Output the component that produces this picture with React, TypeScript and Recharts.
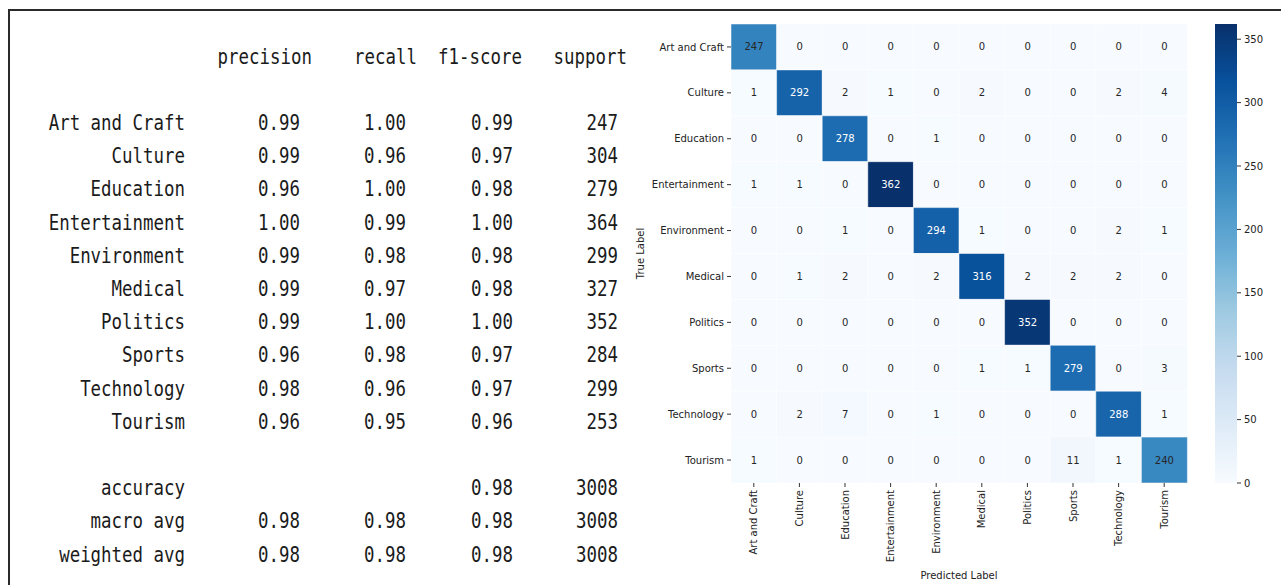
import { Bar, BarChart, Cell, LabelList, XAxis, YAxis } from "recharts";

// classification report
const classNames = [
  "Art and Craft",
  "Culture",
  "Education",
  "Entertainment",
  "Environment",
  "Medical",
  "Politics",
  "Sports",
  "Technology",
  "Tourism",
];
const precision = [0.99, 0.99, 0.96, 1.0, 0.99, 0.99, 0.99, 0.96, 0.98, 0.96];
const recall = [1.0, 0.96, 1.0, 0.99, 0.98, 0.97, 1.0, 0.98, 0.96, 0.95];
const f1Score = [0.99, 0.97, 0.98, 1.0, 0.98, 0.98, 1.0, 0.97, 0.97, 0.96];
const support = [247, 304, 279, 364, 299, 327, 352, 284, 299, 253];

const summaryNames = ["accuracy", "macro avg", "weighted avg"];
const summaryPrecision = [null, 0.98, 0.98];
const summaryRecall = [null, 0.98, 0.98];
const summaryF1 = [0.98, 0.98, 0.98];
const summarySupport = [3008, 3008, 3008];

const headers = ["precision", "recall", "f1-score", "support"];

// confusion matrix: rows = true label, columns = predicted label
const confusion = [
  [247, 0, 0, 0, 0, 0, 0, 0, 0, 0],
  [1, 292, 2, 1, 0, 2, 0, 0, 2, 4],
  [0, 0, 278, 0, 1, 0, 0, 0, 0, 0],
  [1, 1, 0, 362, 0, 0, 0, 0, 0, 0],
  [0, 0, 1, 0, 294, 1, 0, 0, 2, 1],
  [0, 1, 2, 0, 2, 316, 2, 2, 2, 0],
  [0, 0, 0, 0, 0, 0, 352, 0, 0, 0],
  [0, 0, 0, 0, 0, 1, 1, 279, 0, 3],
  [0, 2, 7, 0, 1, 0, 0, 0, 288, 1],
  [1, 0, 0, 0, 0, 0, 0, 11, 1, 240],
];

const colorbarTicks = [0, 50, 100, 150, 200, 250, 300, 350];

// matplotlib "Blues"
const BLUES = [
  "#f7fbff",
  "#deebf7",
  "#c6dbef",
  "#9ecae1",
  "#6baed6",
  "#4292c6",
  "#2171b5",
  "#08519c",
  "#08306b",
];

const vmax = Math.max(...confusion.flat());

function hexRgb(h: string) {
  return [1, 3, 5].map((i) => parseInt(h.slice(i, i + 2), 16));
}

function bluesRgb(v: number) {
  const t = Math.min(1, Math.max(0, v / vmax)) * (BLUES.length - 1);
  const i = Math.min(BLUES.length - 2, Math.floor(t));
  const f = t - i;
  const a = hexRgb(BLUES[i]);
  const b = hexRgb(BLUES[i + 1]);
  return a.map((x, k) => Math.round(x + (b[k] - x) * f));
}

const blues = (v: number) => `rgb(${bluesRgb(v).join(",")})`;

function isDark(v: number) {
  const [r, g, b] = bluesRgb(v).map((x) => x / 255);
  return 0.2126 * r + 0.7152 * g + 0.0722 * b < 0.408;
}

// one stacked column per predicted label, one unit slot per true label
const heatRows = classNames.map((pred, c) => {
  const row: Record<string, string | number> = { name: pred };
  confusion.forEach((r, i) => {
    row[`slot${i}`] = 1;
    row[`count${i}`] = r[c];
  });
  return row;
});

const colorbarData = [{ name: "scale", top: vmax }];

// ---- report text ----
// DejaVu Sans Mono at 21px is ~12.64px per char; squeeze to ~10.5px
const SQUEEZE = 0.83;
const nameEnd = 185;
const valueEnds = [300, 406, 513, 618];
const headerEnds = [312, 417, 522, 627];
const lineY = (k: number) => 130 + 33.2 * k;

function Mono({ x, y, s }: { x: number; y: number; s: string }) {
  return (
    <text x={x / SQUEEZE} y={y} textAnchor="end">
      {s}
    </text>
  );
}

const fmt = (v: number | null) => (v == null ? "" : v.toFixed(2));

function Report() {
  return (
    <svg
      width={632}
      height={585}
      style={{ position: "absolute", left: 0, top: 0 }}
      fontFamily="DejaVu Sans Mono"
      fontSize={21}
      fill="#1b1b1b"
    >
      <g transform={`scale(${SQUEEZE}, 1)`}>
        {headers.map((h, j) => (
          <Mono key={h} x={headerEnds[j]} y={lineY(-2)} s={h} />
        ))}
        {classNames.map((name, i) => (
          <g key={name}>
            <Mono x={nameEnd} y={lineY(i)} s={name} />
            <Mono x={valueEnds[0]} y={lineY(i)} s={fmt(precision[i])} />
            <Mono x={valueEnds[1]} y={lineY(i)} s={fmt(recall[i])} />
            <Mono x={valueEnds[2]} y={lineY(i)} s={fmt(f1Score[i])} />
            <Mono x={valueEnds[3]} y={lineY(i)} s={String(support[i])} />
          </g>
        ))}
        {summaryNames.map((name, i) => (
          <g key={name}>
            <Mono x={nameEnd} y={lineY(11 + i)} s={name} />
            {summaryPrecision[i] != null && (
              <Mono x={valueEnds[0]} y={lineY(11 + i)} s={fmt(summaryPrecision[i])} />
            )}
            {summaryRecall[i] != null && (
              <Mono x={valueEnds[1]} y={lineY(11 + i)} s={fmt(summaryRecall[i])} />
            )}
            <Mono x={valueEnds[2]} y={lineY(11 + i)} s={fmt(summaryF1[i])} />
            <Mono x={valueEnds[3]} y={lineY(11 + i)} s={String(summarySupport[i])} />
          </g>
        ))}
      </g>
    </svg>
  );
}

// ---- heatmap ----
function PredictedTick({ x, y, payload }: any) {
  return (
    <text
      x={x}
      y={y}
      transform={`rotate(-90, ${x}, ${y})`}
      textAnchor="end"
      dy="0.35em"
      fontSize={10}
      fill="#222"
    >
      {payload.value}
    </text>
  );
}

function CountLabel(props: any) {
  const { x, y, width, height, value } = props;
  return (
    <text
      x={x + width / 2}
      y={y + height / 2}
      dy="0.35em"
      textAnchor="middle"
      fontSize={10}
      fill={isDark(value) ? "#ffffff" : "#262626"}
    >
      {value}
    </text>
  );
}

function TrueLabel({ viewBox }: any) {
  const cx = viewBox.x + 10;
  const cy = viewBox.y + viewBox.height / 2;
  return (
    <text
      x={cx}
      y={cy}
      transform={`rotate(-90, ${cx}, ${cy})`}
      textAnchor="middle"
      dy="0.35em"
      fontSize={10}
      fill="#222"
    >
      True Label
    </text>
  );
}

function Heatmap() {
  return (
    <div style={{ position: "absolute", left: 630, top: 0 }}>
      <BarChart
        width={570}
        height={585}
        data={heatRows}
        margin={{ top: 24, right: 13, bottom: 0, left: 0 }}
        barCategoryGap={0}
        barGap={0}
      >
        <XAxis
          dataKey="name"
          type="category"
          height={102}
          interval={0}
          axisLine={false}
          tickSize={4}
          tickMargin={3}
          tickLine={{ stroke: "#333" }}
          tick={<PredictedTick />}
          label={{
            value: "Predicted Label",
            position: "insideBottom",
            offset: 6,
            fontSize: 10,
            fill: "#222",
          }}
        />
        <YAxis
          type="number"
          domain={[0, classNames.length]}
          reversed
          width={101}
          ticks={classNames.map((_, i) => i + 0.5)}
          interval={0}
          tickFormatter={(v: number) => classNames[Math.floor(v)]}
          axisLine={false}
          tickSize={4}
          tickMargin={3}
          tickLine={{ stroke: "#333" }}
          tick={{ fontSize: 10, fill: "#222" }}
          label={<TrueLabel />}
        />
        {confusion.map((_, i) => (
          <Bar
            key={i}
            dataKey={`slot${i}`}
            stackId="matrix"
            isAnimationActive={false}
          >
            {heatRows.map((row, c) => (
              <Cell
                key={c}
                fill={blues(row[`count${i}`] as number)}
                stroke="#ffffff"
                strokeWidth={0.5}
              />
            ))}
            <LabelList dataKey={`count${i}`} content={<CountLabel />} />
          </Bar>
        ))}
      </BarChart>
    </div>
  );
}

function Colorbar() {
  return (
    <div style={{ position: "absolute", left: 1215, top: 0 }}>
      <BarChart
        width={66}
        height={585}
        data={colorbarData}
        margin={{ top: 24, right: 0, bottom: 102, left: 0 }}
        barCategoryGap={0}
      >
        <defs>
          <linearGradient id="bluesScale" x1="0" y1="1" x2="0" y2="0">
            {BLUES.map((c, i) => (
              <stop key={c} offset={i / (BLUES.length - 1)} stopColor={c} />
            ))}
          </linearGradient>
        </defs>
        <XAxis dataKey="name" hide />
        <YAxis
          orientation="right"
          type="number"
          domain={[0, vmax]}
          ticks={colorbarTicks}
          interval={0}
          width={44}
          axisLine={false}
          tickSize={4}
          tickMargin={3}
          tickLine={{ stroke: "#333" }}
          tick={{ fontSize: 10, fill: "#222", textAnchor: "start" }}
        />
        <Bar dataKey="top" fill="url(#bluesScale)" isAnimationActive={false} />
      </BarChart>
    </div>
  );
}

export default function App() {
  return (
    <div
      style={{
        position: "relative",
        width: 1281,
        height: 585,
        overflow: "hidden",
        background: "#fff",
        fontFamily: "'DejaVu Sans', sans-serif",
      }}
    >
      <style>{"body{margin:0}"}</style>
      <div
        style={{
          position: "absolute",
          left: 8,
          top: 9,
          width: 1280,
          height: 600,
          borderTop: "2px solid #2a2a2a",
          borderLeft: "2px solid #2a2a2a",
        }}
      />
      <Report />
      <Heatmap />
      <Colorbar />
    </div>
  );
}
